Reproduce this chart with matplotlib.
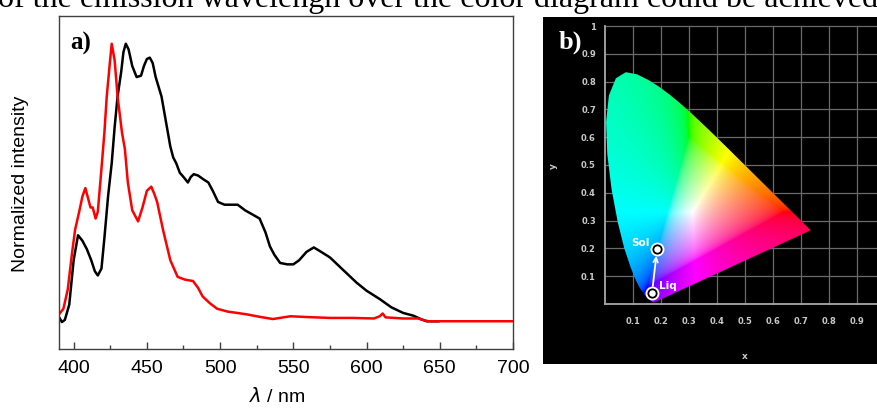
import numpy as np
import matplotlib
matplotlib.use('Agg')
import matplotlib.pyplot as plt
from matplotlib.patches import Polygon
from matplotlib.ticker import MultipleLocator

# ---------------- data ----------------
caption_text = "of the emission wavelengh over the color diagram could be achieved"

wl_black = [390, 392, 394, 397, 400, 403, 406, 409, 412, 414.5, 416.5, 419, 421, 423.5,
            426, 428, 430, 432.5, 434, 435.6, 437.5, 440, 443, 446, 448, 450, 452, 454,
            456, 460, 463, 466, 468, 470, 472.5, 475, 478, 480, 482, 485, 489, 492, 495,
            498.6, 503, 508, 512, 517, 522, 527, 531, 534, 537, 541, 546, 550, 554, 559,
            564, 569, 575, 581, 587, 593, 600, 609, 617, 625, 632, 637, 641, 649]
int_black = [0.015, -0.003, 0.005, 0.06, 0.22, 0.31, 0.29, 0.26, 0.22, 0.18, 0.165, 0.19,
             0.30, 0.45, 0.57, 0.70, 0.81, 0.90, 0.97, 1.0, 0.98, 0.92, 0.88, 0.885, 0.92,
             0.945, 0.95, 0.93, 0.88, 0.81, 0.72, 0.63, 0.59, 0.57, 0.535, 0.52, 0.50, 0.52,
             0.53, 0.525, 0.51, 0.50, 0.47, 0.43, 0.42, 0.42, 0.42, 0.40, 0.385, 0.37, 0.32,
             0.27, 0.24, 0.21, 0.205, 0.205, 0.22, 0.25, 0.266, 0.25, 0.23, 0.20, 0.17, 0.14,
             0.11, 0.08, 0.05, 0.03, 0.02, 0.008, 0.0, 0.0]

wl_red = [390, 393, 396, 399, 401, 404, 406, 408, 410, 411.5, 413, 415, 416.5, 419, 421,
          422.6, 424.7, 426, 428, 430, 433, 435, 437, 440, 444, 447, 450, 453, 455, 457,
          461, 466, 471, 476, 481.5, 485, 488, 493, 498, 505, 518, 528, 536, 548, 560, 575,
          590, 605, 609, 611, 613, 625, 635, 642, 700]
int_red = [0.025, 0.045, 0.115, 0.25, 0.33, 0.40, 0.45, 0.48, 0.44, 0.41, 0.41, 0.37, 0.395,
           0.55, 0.68, 0.81, 0.93, 1.0, 0.94, 0.81, 0.68, 0.62, 0.50, 0.40, 0.36, 0.41, 0.47,
           0.485, 0.46, 0.43, 0.33, 0.22, 0.16, 0.15, 0.145, 0.12, 0.09, 0.065, 0.045, 0.035,
           0.025, 0.015, 0.008, 0.018, 0.015, 0.012, 0.012, 0.01, 0.018, 0.028, 0.014, 0.01,
           0.01, 0.0, 0.0]

x_ticks = [400, 450, 500, 550, 600, 650, 700]

# CIE 1931 spectral locus (chromaticity x, y)
locus_x = [0.1741, 0.1733, 0.1714, 0.1644, 0.1566, 0.1440, 0.1241, 0.1096, 0.0913, 0.0687,
           0.0454, 0.0235, 0.0082, 0.0039, 0.0139, 0.0389, 0.0743, 0.1142, 0.1547, 0.1929,
           0.2296, 0.2658, 0.3016, 0.3373, 0.3731, 0.4087, 0.4441, 0.4788, 0.5125, 0.5448,
           0.5752, 0.6029, 0.6270, 0.6658, 0.6915, 0.7079, 0.7190, 0.7260, 0.7300, 0.7334,
           0.7347]
locus_y = [0.0050, 0.0048, 0.0051, 0.0109, 0.0177, 0.0297, 0.0578, 0.0868, 0.1327, 0.2007,
           0.2950, 0.4127, 0.5384, 0.6548, 0.7502, 0.8120, 0.8338, 0.8262, 0.8059, 0.7816,
           0.7543, 0.7243, 0.6923, 0.6589, 0.6245, 0.5896, 0.5547, 0.5202, 0.4866, 0.4544,
           0.4242, 0.3965, 0.3725, 0.3340, 0.3083, 0.2920, 0.2809, 0.2740, 0.2700, 0.2666,
           0.2653]

cie_x_ticks = [0.1, 0.2, 0.3, 0.4, 0.5, 0.6, 0.7, 0.8, 0.9]
cie_x_labels = ["0.1", "0.2", "0.3", "0.4", "0.5", "0.6", "0.7", "0.8", "0.9"]
cie_y_ticks = [0.1, 0.2, 0.3, 0.4, 0.5, 0.6, 0.7, 0.8, 0.9, 1.0]
cie_y_labels = ["0.1", "0.2", "0.3", "0.4", "0.5", "0.6", "0.7", "0.8", "0.9", "1"]

point_names = ["Liq", "Sol"]
point_x = [0.168, 0.186]
point_y = [0.040, 0.198]

# ---------------- figure ----------------
W, H = 878, 410
fig = plt.figure(figsize=(W / 100, H / 100), dpi=100)

fig.text(-2 / W, 1 - 7 / H, caption_text, family='Liberation Serif', fontsize=23,
         ha='left', va='baseline', color='black')

# ---- panel a ----
ax = fig.add_axes([59 / W, 1 - 350 / H, 454 / W, 333 / H])
ax.plot(wl_black, int_black, color='black', lw=1.8)
ax.plot(wl_red, int_red, color='#ff0000', lw=1.8)
ax.set_xlim(390, 700)
ax.set_ylim(-0.1, 1.1)
ax.set_yticks([])
ax.set_xticks(x_ticks)
ax.xaxis.set_minor_locator(MultipleLocator(25))
ax.tick_params(axis='x', which='major', direction='in', length=5, width=1,
               labelsize=14, pad=7, color='#404040')
ax.tick_params(axis='x', which='minor', direction='in', length=3, width=1, color='#404040')
for lab in ax.get_xticklabels():
    lab.set_family('Liberation Sans')
for s in ax.spines.values():
    s.set_color('#404040')
    s.set_linewidth(1.0)
fig.text(81 / W, 1 - 43 / H, 'a)', family='Liberation Serif', weight='bold', fontsize=18,
         ha='center', va='center')
fig.text(21 / W, 1 - 184 / H, 'Normalized intensity', family='Liberation Sans', fontsize=14,
         rotation=90, ha='center', va='center')
fig.text(277 / W, 1 - 397 / H, r'$\lambda$ / nm', family='Liberation Sans', fontsize=14,
         ha='center', va='center')

# ---- panel b ----
x0p, y0p, sx, sy = 605, 305, 280, 278
bx = fig.add_axes([543 / W, 1 - 365 / H, (W - 543) / W, 347 / H])
bx.set_facecolor('black')
for s in bx.spines.values():
    s.set_visible(False)
bx.set_xticks([])
bx.set_yticks([])

grid_c = '#6a6a6a'
for v in cie_x_ticks + [1.0]:
    bx.plot([v, v], [0, 1], color=grid_c, lw=0.9, zorder=1)
for v in cie_y_ticks:
    bx.plot([0, 1], [v, v], color=grid_c, lw=0.9, zorder=1)
bx.plot([0, 0], [0, 1], color='#a8a8a8', lw=1.3, zorder=1)
bx.plot([0, 1], [0, 0], color='#a8a8a8', lw=1.3, zorder=1)

# chromaticity colour image
gx = np.linspace(0.0, 0.75, 500)
gy = np.linspace(0.002, 0.85, 500)
GX, GY = np.meshgrid(gx, gy)
Xc = GX / GY
Yc = np.ones_like(GX)
Zc = (1 - GX - GY) / GY
M = np.array([[3.2406, -1.5372, -0.4986],
              [-0.9689, 1.8758, 0.0415],
              [0.0557, -0.2040, 1.0570]])
rgb = np.stack([Xc, Yc, Zc], axis=-1) @ M.T
mn = np.minimum(rgb.min(axis=-1, keepdims=True), 0)
rgb = rgb - mn
rgb = rgb / rgb.max(axis=-1, keepdims=True)
rgb = np.where(rgb <= 0.0031308, 12.92 * rgb, 1.055 * np.power(rgb, 1 / 2.4) - 0.055)
rgb = np.clip(rgb, 0, 1)
im = bx.imshow(rgb, extent=[0, 0.75, 0.002, 0.85], origin='lower', aspect='auto',
               interpolation='bilinear', zorder=2)
poly = Polygon(np.column_stack([locus_x, locus_y]), closed=True, facecolor='none',
               edgecolor='none', transform=bx.transData)
bx.add_patch(poly)
im.set_clip_path(poly)

bx.set_xlim((543 - x0p) / sx, (W - x0p) / sx)
bx.set_ylim((y0p - 365) / sy, (y0p - 18) / sy)

tick_c = '#c8c8c8'
for v, t in zip(cie_x_ticks, cie_x_labels):
    bx.text(v, (y0p - 322) / sy, t, color=tick_c, fontsize=6, weight='bold',
            ha='center', va='center')
for v, t in zip(cie_y_ticks, cie_y_labels):
    bx.text((596 - x0p) / sx, v, t, color=tick_c, fontsize=6, weight='bold',
            ha='right', va='center')
bx.text(0.5, (y0p - 357) / sy, 'x', color=tick_c, fontsize=6.5, weight='bold',
        ha='center', va='center')
bx.text((553 - x0p) / sx, 0.5, 'y', color=tick_c, fontsize=6.5, weight='bold',
        ha='center', va='center', rotation=90)

# arrow and points
bx.annotate('', xy=(point_x[1], point_y[1]), xytext=(point_x[0], point_y[0]),
            arrowprops=dict(arrowstyle='->', color='white', lw=1.3, shrinkA=5, shrinkB=5,
                            mutation_scale=8), zorder=4)
bx.plot(point_x, point_y, 'o', ms=9, mfc='white', mec='white', zorder=5)
bx.plot(point_x, point_y, 'o', ms=6, mfc='white', mec='black', mew=1.3, zorder=6)
bx.text(0.127, 0.222, point_names[1], color='white', fontsize=7.5, weight='bold',
        ha='center', va='center', zorder=6)
bx.text(0.224, 0.07, point_names[0], color='white', fontsize=7.5, weight='bold',
        ha='center', va='center', zorder=6)
bx.text((570 - x0p) / sx, (y0p - 42) / sy, 'b)', color='white', family='Liberation Serif',
        weight='bold', fontsize=19, ha='center', va='center', zorder=6)

fig.savefig('out.png', dpi=100)
